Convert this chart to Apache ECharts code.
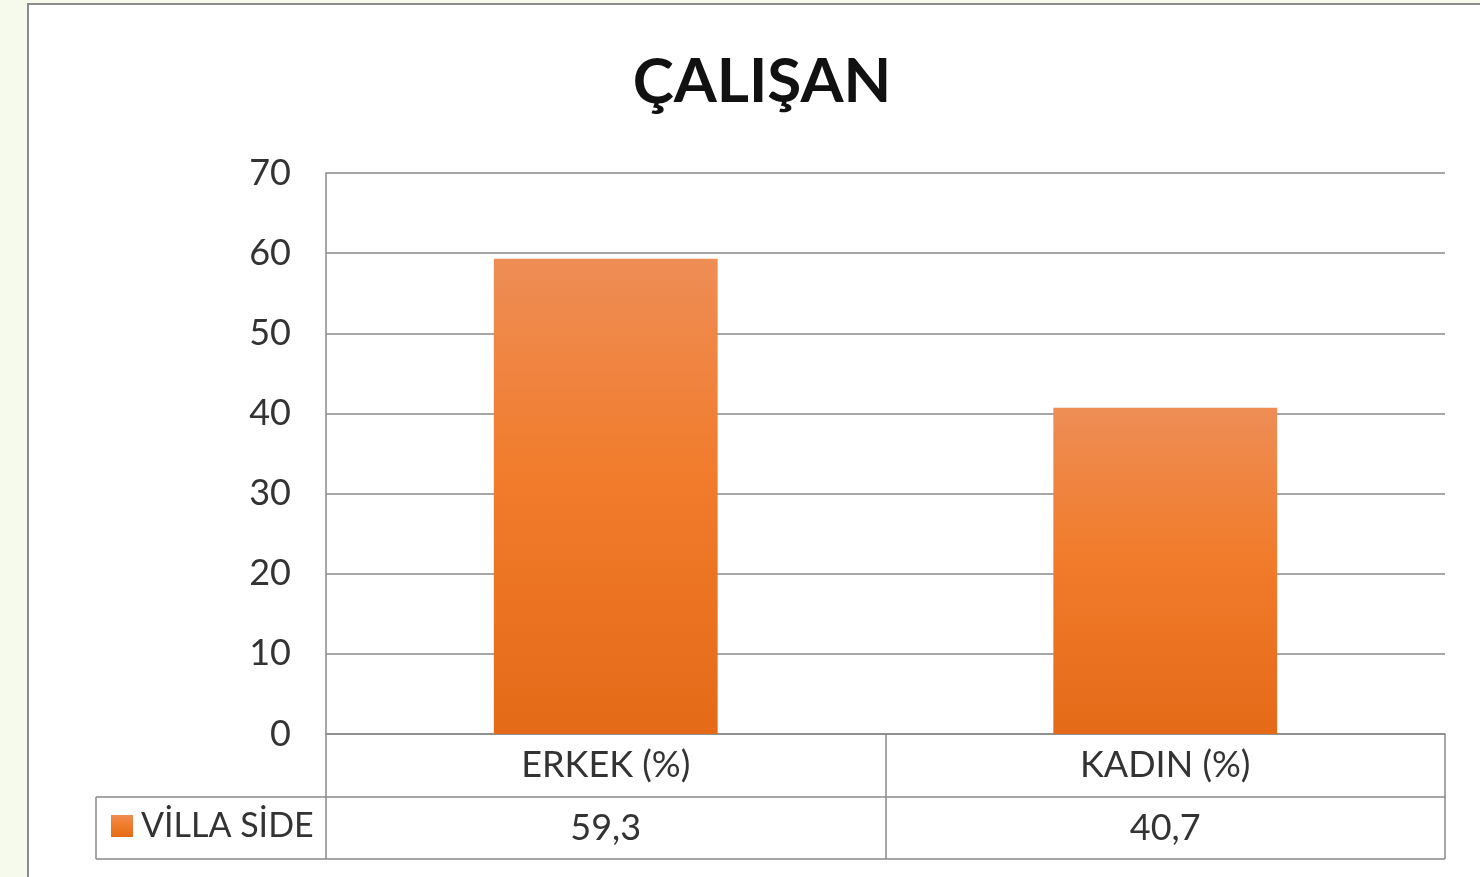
<!DOCTYPE html>
<html>
<head>
<meta charset="utf-8">
<script src="https://cdn.jsdelivr.net/npm/echarts@6/dist/echarts.min.js"></script>
<style>
html,body{margin:0;padding:0;background:#f6faec;}
#wrap{position:absolute;left:0;top:0;width:1480px;height:877px;}
#frame{position:absolute;left:27px;top:3px;width:1460px;height:880px;border:2px solid #8c8c8c;background:#ffffff;box-sizing:border-box;}
#chart{position:absolute;left:0;top:0;width:1480px;height:877px;}
</style>
</head>
<body>
<div id="wrap"><div id="frame"></div><div id="chart"></div></div>
<script>
const titleText = 'ÇALIŞAN';
const categories = ['ERKEK (%)', 'KADIN (%)'];
const seriesName = 'VİLLA SİDE';
const values = [59.3, 40.7];
const yMin = 0, yMax = 70, yInterval = 10;

const fmt = v => String(v).replace('.', ',');
const GRID = {left: 326, top: 173, right: 35, bottom: 143};
const ROW_H = 63;
const lineCol = '#8a8a8a';
const textCol = '#333333';
const FONT = 'Lato';

const chart = echarts.init(document.getElementById('chart'), null, {renderer: 'canvas'});
const tableBottom = 877 - GRID.bottom + 2 * ROW_H - 1;
const midRow = 877 - GRID.bottom + ROW_H;
const gx1 = 1480 - GRID.right;

chart.setOption({
  backgroundColor: 'transparent',
  textStyle: {fontFamily: FONT},
  title: {
    text: titleText, left: 757, top: 46, textAlign: 'center',
    textStyle: {fontSize: 62, fontWeight: 'bold', color: '#111111', fontFamily: FONT}
  },
  legend: {
    data: [seriesName], left: 111, top: 809, padding: 0,
    icon: 'rect', itemWidth: 22, itemHeight: 22, itemGap: 9,
    textStyle: {fontSize: 34, color: textCol, fontFamily: FONT, padding: [0, 0, 0, 3]}
  },
  grid: GRID,
  xAxis: [{
    type: 'category', data: categories, position: 'bottom',
    axisLine: {show: true, lineStyle: {color: lineCol, width: 1.5}},
    axisTick: {show: true, length: 2 * ROW_H - 1, lineStyle: {color: lineCol, width: 1.5}},
    axisLabel: {fontSize: 36, color: textCol, margin: 13, fontFamily: FONT},
    splitLine: {show: false}
  }, {
    type: 'category', data: values.map(fmt), position: 'bottom', offset: ROW_H,
    axisLine: {show: true, lineStyle: {color: lineCol, width: 1.5}},
    axisTick: {show: false},
    axisLabel: {fontSize: 36, color: textCol, margin: 13, fontFamily: FONT},
    splitLine: {show: false}
  }],
  yAxis: {
    type: 'value', min: yMin, max: yMax, interval: yInterval,
    axisLine: {show: true, lineStyle: {color: lineCol, width: 1.5}},
    axisTick: {show: false},
    axisLabel: {fontSize: 36, color: textCol, margin: 35, fontFamily: FONT},
    splitLine: {show: true, lineStyle: {color: lineCol, width: 1.5}}
  },
  series: [{
    name: seriesName, type: 'bar', xAxisIndex: 0, data: values, barWidth: '40%',
    itemStyle: {
      color: new echarts.graphic.LinearGradient(0, 0, 0, 1, [
        {offset: 0, color: '#ee8d55'},
        {offset: 0.45, color: '#f17c2c'},
        {offset: 1, color: '#e46a17'}
      ]),
      shadowBlur: 8, shadowColor: 'rgba(0,0,0,0.3)', shadowOffsetX: 0, shadowOffsetY: 1
    },
    emphasis: {disabled: true}
  }],
  graphic: [
    {type: 'line', shape: {x1: 96, y1: midRow, x2: GRID.left, y2: midRow}, style: {stroke: lineCol, lineWidth: 1.5}},
    {type: 'line', shape: {x1: 96, y1: tableBottom, x2: gx1, y2: tableBottom}, style: {stroke: lineCol, lineWidth: 1.5}},
    {type: 'line', shape: {x1: 96, y1: midRow, x2: 96, y2: tableBottom}, style: {stroke: lineCol, lineWidth: 1.5}}
  ]
});
</script>
</body>
</html>
